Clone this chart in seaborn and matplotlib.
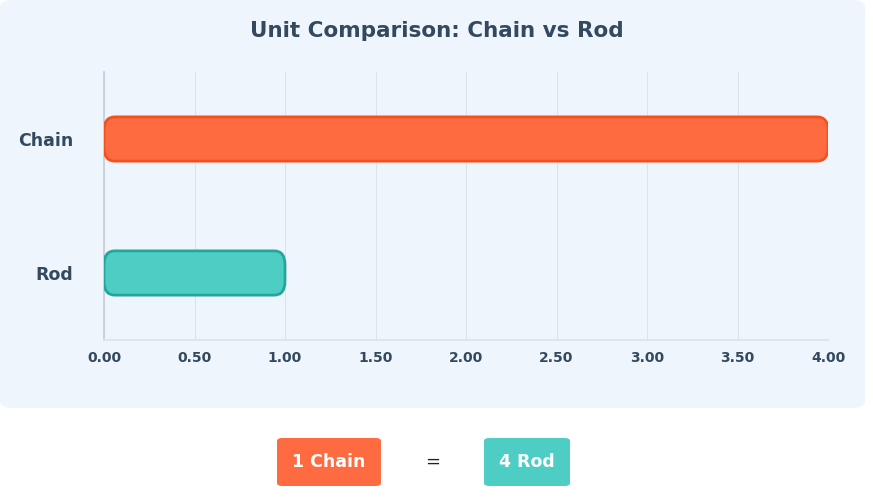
import matplotlib
matplotlib.use("Agg")
import matplotlib.pyplot as plt
import seaborn as sns
import pandas as pd
from matplotlib.patches import FancyBboxPatch

categories = ["Chain", "Rod"]
values = [4.0, 1.0]
face_colors = ["#FF6B40", "#4ECDC4"]
edge_colors = ["#F4511E", "#26A69A"]
xticks = [0, 0.5, 1, 1.5, 2, 2.5, 3, 3.5, 4]

sns.set_theme(style="white")
plt.rcParams['font.family'] = ['DejaVu Sans']
fig = plt.figure(figsize=(8.73, 5.0), dpi=100)
fig.patch.set_facecolor("white")

card = FancyBboxPatch((0.0, 1 - 408/500), 865/873, 408/500, boxstyle="round,pad=0,rounding_size=0.015",
                      transform=fig.transFigure, facecolor="#EEF5FD", edgecolor="none", zorder=-10)
fig.patches.append(card)

ax = fig.add_axes([104/873, 1 - 340/500, 724/873, 268/500])
ax.set_zorder(5)
ax.set_facecolor("none")
df = pd.DataFrame({"cat": categories, "val": values})
sns.barplot(data=df, y="cat", x="val", hue="cat", palette=face_colors, orient="h",
            width=0.33, legend=False, ax=ax)

for p, fc, ec in zip(list(ax.patches), face_colors, edge_colors):
    x, y = p.get_x(), p.get_y()
    w, h = p.get_width(), p.get_height()
    p.set_visible(False)
    fb = FancyBboxPatch((x, y), w, h, boxstyle="round,pad=0,rounding_size=0.06",
                        mutation_aspect=1.7, facecolor=fc, edgecolor=ec, linewidth=2, zorder=3)
    ax.add_patch(fb)

ax.set_xlim(0, 4)
ax.set_ylim(1.5, -0.5)
ax.set_xticks(xticks)
ax.set_xticklabels([f"{t:.2f}" for t in xticks], fontsize=10, fontweight="bold", color="#34495E")
ax.set_yticks([0, 1])
ax.set_yticklabels(categories, fontsize=12.5, fontweight="bold", color="#34495E")
ax.tick_params(axis="y", length=0, pad=22)
ax.tick_params(axis="x", length=0, pad=8)
ax.set_xlabel("")
ax.set_ylabel("")
ax.grid(axis="x", color="#DDE3EA", linewidth=0.8, zorder=0)
ax.set_axisbelow(True)
for s in ["top", "right"]:
    ax.spines[s].set_visible(False)
ax.spines["left"].set_color("#C8CFD8")
ax.spines["bottom"].set_color("#DDE3EA")

fig.text(0.5, 1 - 31/500, "Unit Comparison: Chain vs Rod", ha="center", va="center",
         fontsize=15.5, fontweight="bold", color="#34495E")

def badge(cx, text, color, w):
    fig.patches.append(FancyBboxPatch(((cx - w/2)/873, 1 - 486/500), w/873, 48/500,
                       boxstyle="round,pad=0,rounding_size=0.006", transform=fig.transFigure,
                       facecolor=color, edgecolor="none"))
    fig.text(cx/873, 1 - 462/500, text, ha="center", va="center", fontsize=12.5,
             fontweight="bold", color="white")

badge(329, "1 Chain", "#FF6B40", 104)
badge(527, "4 Rod", "#4ECDC4", 86)
fig.text(433/873, 1 - 462/500, "=", ha="center", va="center", fontsize=13, color="#222222")

fig.savefig("out.png", dpi=100)
